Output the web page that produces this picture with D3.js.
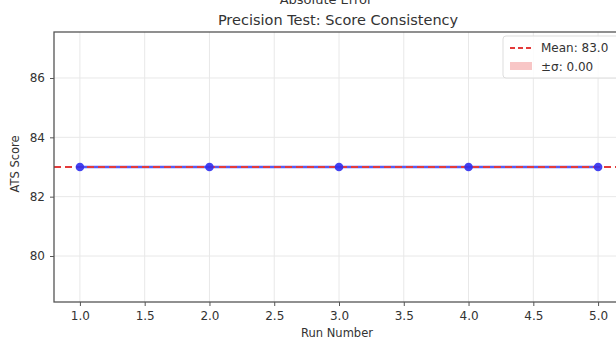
<!DOCTYPE html>
<html>
<head>
<meta charset="utf-8">
<script src="https://cdn.jsdelivr.net/npm/d3@7"></script>
<style>
  body { margin: 0; background: #fff; }
  text { font-family: "DejaVu Sans", sans-serif; fill: #333; }
</style>
</head>
<body>
<svg id="root" width="616" height="338"></svg>
<script>
const runs = [1, 2, 3, 4, 5];
const scores = [83, 83, 83, 83, 83];
const xTicks = [1.0, 1.5, 2.0, 2.5, 3.0, 3.5, 4.0, 4.5, 5.0];
const yTicks = [80, 82, 84, 86];
const meanScore = 83.0;
const stdScore = 0.0;

const main = () => {
    const svg = d3.select("#root");

    const margin = { top: 32, left: 54, bottom: 36, right: -8 };
    const dimensions = { width: 616, height: 338 };

    const x = d3.scaleLinear()
        .domain([0.8, 5.2])
        .range([margin.left, dimensions.width - margin.right]);
    const y = d3.scaleLinear()
        .domain([78.45, 87.55])
        .range([dimensions.height - margin.bottom, margin.top]);

    const plotBottom = dimensions.height - margin.bottom;

    // grid
    svg.append("g")
        .selectAll("line")
        .data(xTicks)
        .join("line")
        .attr("x1", (d) => x(d)).attr("x2", (d) => x(d))
        .attr("y1", margin.top).attr("y2", plotBottom)
        .attr("stroke", "#e8e8e8").attr("stroke-width", 1);
    svg.append("g")
        .selectAll("line")
        .data(yTicks)
        .join("line")
        .attr("x1", margin.left).attr("x2", x(5.2))
        .attr("y1", (d) => y(d)).attr("y2", (d) => y(d))
        .attr("stroke", "#e8e8e8").attr("stroke-width", 1);

    // ±σ band (zero height here)
    svg.append("rect")
        .attr("x", margin.left)
        .attr("width", x(5.2) - margin.left)
        .attr("y", y(meanScore + stdScore))
        .attr("height", y(meanScore - stdScore) - y(meanScore + stdScore))
        .attr("fill", "#f4a0a0").attr("opacity", 0.5);

    // data line
    const line = d3.line().x((d, i) => x(runs[i])).y((d) => y(d));
    svg.append("path")
        .datum(scores)
        .attr("d", line)
        .attr("fill", "none")
        .attr("stroke", "#5a5af0")
        .attr("stroke-width", 2.4);

    // mean line
    svg.append("line")
        .attr("x1", margin.left).attr("x2", x(5.2))
        .attr("y1", y(meanScore)).attr("y2", y(meanScore))
        .attr("stroke", "#e33a3a")
        .attr("stroke-width", 2.2)
        .attr("stroke-dasharray", "7,4");

    svg.append("g")
        .selectAll("circle")
        .data(scores)
        .join("circle")
        .attr("cx", (d, i) => x(runs[i]))
        .attr("cy", (d) => y(d))
        .attr("r", 4.3)
        .attr("fill", "#2f2ff0")
        .attr("opacity", 0.9);

    // axes
    const xAxis = d3.axisBottom(x).tickValues(xTicks).tickFormat(d3.format(".1f")).tickSize(4).tickPadding(5);
    const yAxis = d3.axisLeft(y).tickValues(yTicks).tickFormat(d3.format("d")).tickSize(4).tickPadding(5);

    svg.append("g")
        .attr("transform", `translate(0, ${plotBottom})`)
        .call(xAxis)
        .call((g) => g.select(".domain").remove())
        .call((g) => g.selectAll("line").attr("stroke", "#555"))
        .call((g) => g.selectAll("text").attr("font-size", 12).style("fill", "#333").attr("font-family", "DejaVu Sans"));
    svg.append("g")
        .attr("transform", `translate(${margin.left}, 0)`)
        .call(yAxis)
        .call((g) => g.select(".domain").remove())
        .call((g) => g.selectAll("line").attr("stroke", "#555"))
        .call((g) => g.selectAll("text").attr("font-size", 12).style("fill", "#333").attr("font-family", "DejaVu Sans"));

    // spines
    svg.append("rect")
        .attr("x", margin.left).attr("y", margin.top)
        .attr("width", x(5.2) - margin.left)
        .attr("height", plotBottom - margin.top)
        .attr("fill", "none")
        .attr("stroke", "#555").attr("stroke-width", 1.3);

    // labels
    svg.append("text")
        .attr("x", (margin.left + x(5.2)) / 2 - 2).attr("y", 337)
        .attr("text-anchor", "middle").attr("font-size", 11.5)
        .text("Run Number");
    svg.append("text")
        .attr("transform", "translate(19, 164) rotate(-90)")
        .attr("text-anchor", "middle").attr("font-size", 11.5)
        .text("ATS Score");

    // clipped title from an upper panel
    svg.append("text")
        .attr("x", 326).attr("y", 4)
        .attr("text-anchor", "middle").attr("font-size", 13)
        .text("Absolute Error");
    svg.append("text")
        .attr("x", 338).attr("y", 25)
        .attr("text-anchor", "middle").attr("font-size", 14.5)
        .text("Precision Test: Score Consistency");

    // legend
    const legend = svg.append("g").attr("transform", "translate(503, 36)");
    legend.append("rect")
        .attr("width", 130).attr("height", 42).attr("rx", 3)
        .attr("fill", "#fff").attr("fill-opacity", 0.85)
        .attr("stroke", "#ddd");
    legend.append("line")
        .attr("x1", 7).attr("x2", 29).attr("y1", 12).attr("y2", 12)
        .attr("stroke", "#e33a3a").attr("stroke-width", 2).attr("stroke-dasharray", "5,3");
    legend.append("text")
        .attr("x", 38).attr("y", 16).attr("font-size", 12)
        .text(`Mean: ${meanScore.toFixed(1)}`);
    legend.append("rect")
        .attr("x", 7).attr("y", 26).attr("width", 22).attr("height", 8)
        .attr("fill", "#f4a0a0").attr("opacity", 0.6);
    legend.append("text")
        .attr("x", 38).attr("y", 35).attr("font-size", 12)
        .text(`±σ: ${stdScore.toFixed(2)}`);
};

main();
</script>
</body>
</html>
